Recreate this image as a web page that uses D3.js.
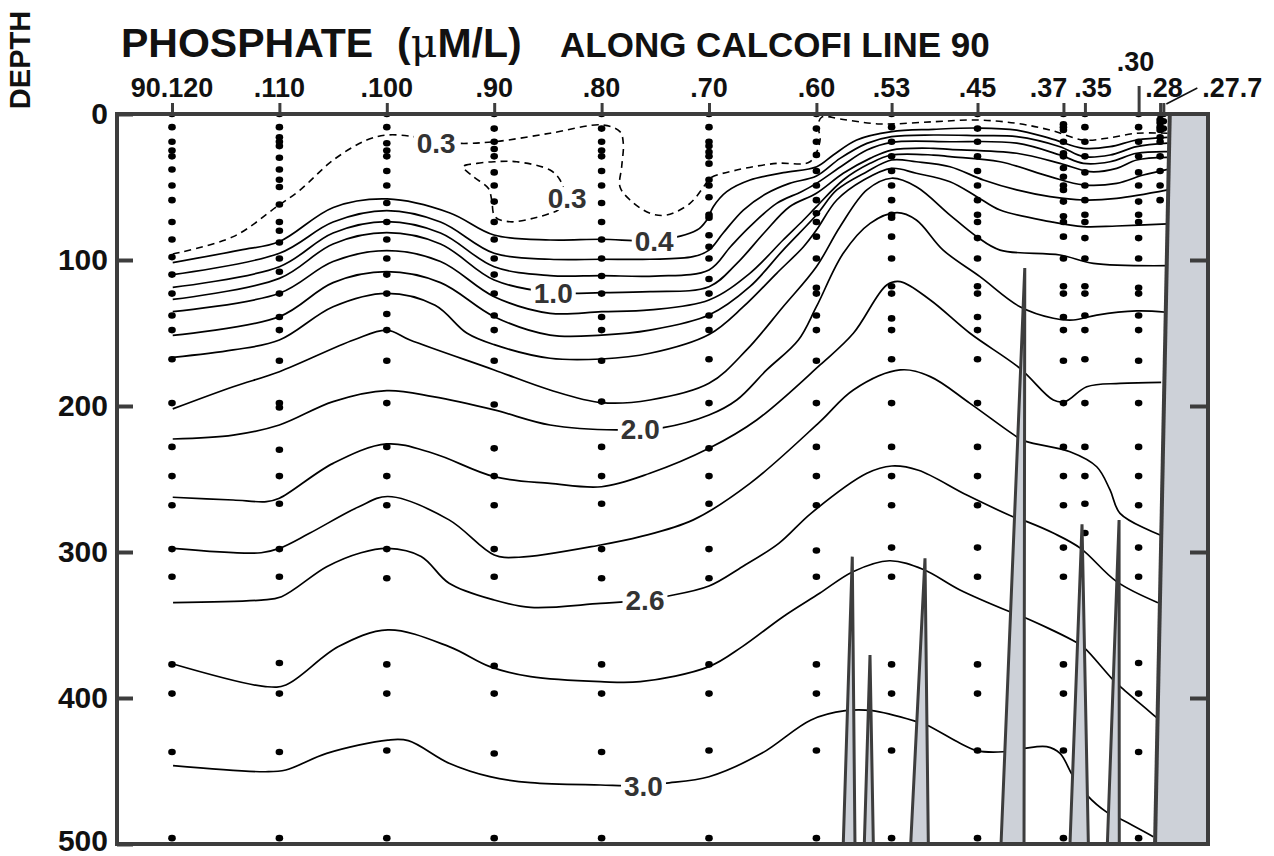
<!DOCTYPE html>
<html>
<head>
<meta charset="utf-8">
<script src="https://cdn.jsdelivr.net/npm/d3@7"></script>
<style>
  body { margin: 0; background: #fff; }
  svg { display: block; font-family: "Liberation Sans", Arial, sans-serif; font-weight: bold; }
</style>
</head>
<body>
<div id="chart"></div>
<script>
// stations along CalCOFI line 90 (x axis is the station number)
const stations = [120, 110, 100, 90, 80, 70, 60, 53, 45, 37, 35, 30, 28, 27.7];
const stationLabels = ["90.120", ".110", ".100", ".90", ".80", ".70", ".60", ".53", ".45", ".37", ".35", ".30", ".28", ".27.7"];
const depthTicks = [0, 100, 200, 300, 400, 500];

// bottle depths (m) at each station
const depths120 = [0, 9, 19, 25, 29, 38, 49, 59, 74, 86, 98, 110, 123, 138, 148, 168, 198, 228, 248, 268, 298, 317, 377, 397, 437, 496];
const depths110 = [0, 9, 16, 19, 22, 30, 38, 45, 50, 62, 74, 80, 88, 99, 108, 123, 139, 148, 169, 198, 201, 230, 248, 267, 298, 317, 376, 397, 437, 496];
const depths100 = [0, 9, 20, 25, 29, 39, 49, 61, 74, 86, 99, 110, 123, 137, 148, 169, 198, 228, 248, 268, 298, 318, 377, 397, 436, 496];
const depths90 = [0, 10, 19, 24, 29, 40, 49, 60, 74, 86, 99, 110, 123, 138, 148, 169, 199, 229, 248, 268, 298, 317, 378, 397, 438, 496];
const depths80 = [0, 10, 19, 25, 29, 39, 49, 61, 74, 86, 99, 111, 123, 139, 148, 169, 197, 228, 248, 267, 298, 318, 377, 397, 437, 496];
const depths70 = [0, 9, 19, 22, 26, 29, 34, 45, 49, 57, 69, 71, 83, 91, 99, 113, 123, 138, 148, 168, 198, 229, 248, 267, 298, 318, 377, 397, 436, 496];
const depths60 = [0, 10, 19, 28, 39, 49, 59, 68, 74, 84, 99, 119, 123, 138, 148, 169, 198, 228, 248, 268, 299, 317, 377, 397, 436, 496];
const depths53 = [0, 9, 19, 29, 39, 49, 59, 69, 71, 84, 99, 118, 123, 140, 148, 168, 198, 228, 248, 268, 297, 317, 377, 397, 436, 496];
const depths45 = [0, 10, 19, 29, 39, 49, 59, 69, 74, 85, 99, 118, 123, 139, 148, 168, 198, 228, 248, 268, 297, 317, 377, 397, 436, 496];
const depths37 = [0, 7, 9, 11, 19, 27, 29, 37, 43, 49, 52, 60, 70, 74, 84, 99, 118, 123, 139, 148, 169, 198, 228, 248, 268, 297, 317, 377, 397, 436, 496];
const depths35 = [0, 9, 19, 29, 40, 49, 59, 69, 74, 85, 99, 118, 123, 138, 148, 168, 198, 228, 248, 267, 287];
const depths30 = [0, 9, 19, 29, 40, 49, 60, 69, 74, 85, 99, 119, 123, 138, 148, 169, 198, 228, 248, 268, 297, 317, 376, 397, 437, 496];
const depths28 = [0, 4, 6, 9, 11, 16, 19, 29, 39, 49, 59];
const depths27_7 = [0, 5, 10];
const sampleDepths = [depths120, depths110, depths100, depths90, depths80, depths70, depths60,
  depths53, depths45, depths37, depths35, depths30, depths28, depths27_7];

// isolines of phosphate, points are [station, depth]
const c03 = [[119.93,95.9],[114.29,84],[110.25,63.5],[108.08,52.1],[104.98,31.5],[101.87,17.8],[99.95,14.4],[97.53,15.5],[95.42,18.5],[93.34,20.1],[90.0,19],[84.8,13.2],[79.99,7.5],[78.29,12.1],[77.98,20.1],[78.13,36.1],[78.29,49.8],[77.35,58.9],[75.49,68],[73.94,69.2],[71.77,61.2],[70.38,48.6],[69.91,44],[67.42,38.4],[63.7,33.8],[60.6,32.7],[59.66,17.8],[59.85,7.5],[59.47,2],[57.8,3.4],[54.08,6.8],[49.14,5.3],[45.07,4.1],[41.35,6.4],[38.25,11],[35.15,17.8],[32.97,16.6],[30.18,13.2],[27.3,13.2]];
const c03loop = [[92.88,36.1],[91.63,33.8],[89.99,32.7],[87.91,32.7],[84.8,38.4],[83.87,45.2],[83.4,57.5],[84.06,65.8],[84.8,68],[86.36,71.4],[88.53,73.8],[89.93,70.3],[90.23,58.9],[90.55,50.9],[91.95,42.9]];
const c04 = [[119.93,101.8],[113.67,93.2],[110.04,87.5],[104.98,64],[99.98,58.2],[94.12,67.8],[90.02,82.9],[84.8,86.3],[79.99,85.8],[75.03,86.6],[71.12,79.5],[70.21,72.6],[69.6,63.5],[68.35,53.2],[66.18,45.2],[63.08,40.2],[59.97,36.1],[58.43,28.1],[56.25,17.8],[52.99,12.1],[49.12,10.5],[45.07,9.6],[41.35,11],[38.25,16.7],[35.15,23.5],[32.66,22.4],[30.18,17.8],[27.3,16]];
const c06 = [[119.93,110],[110,95.4],[105,74],[100,66.2],[95,74],[90,95.4],[84.8,99.5],[80,99.5],[75.5,99.5],[71.5,97.7],[70,93.2],[68.7,81.7],[66.8,65.8],[64.6,54.3],[62.5,47.5],[60,42.5],[57.8,30.4],[55.3,20.1],[53,15.5],[49.1,14.4],[45.07,14.8],[41.35,15.5],[37.32,22.4],[35.15,29.2],[32.66,28.1],[30.18,22.4],[27.3,20]];
const c08 = [[119.93,118.7],[110,104.6],[105,81.5],[100,73.7],[95,81.5],[90,104.6],[84.8,110.7],[80,110.7],[75,111],[70,106.8],[68,90.9],[66.2,77.2],[63.7,61.2],[61.4,53.2],[60,47.5],[57.5,34.9],[55.3,24.7],[53,19.4],[47.56,19],[41.35,20],[37.32,28.1],[35.15,33.8],[32.66,32.7],[30.18,26.9],[27.3,25.8]];
const c10 = [[119.93,127],[110,112.6],[105,89],[100,81.3],[95,89],[90,113.7],[84.5,122.4],[80,122.4],[75.5,121.7],[70,118.3],[67.4,102.3],[64.9,81.7],[62.5,63.5],[60,54.3],[57.5,40.6],[55,30.4],[53,24.7],[49.1,23.5],[47.56,24.2],[41.35,26.9],[37.32,33.8],[34.53,39.5],[32.04,37.2],[30.18,31.5],[27.3,29.7]];
const c12 = [[119.93,135.4],[110,122.8],[105,101],[100,93.6],[95,101],[90,125.1],[84.8,136.5],[80,135.4],[75.5,134.2],[70,127.4],[66.2,109.1],[63.1,86.3],[61.2,72.6],[60,63.5],[57.5,45.2],[55,33.8],[53,28.1],[49.1,28.1],[47.56,29.2],[42.9,32.7],[38.25,42.9],[35.15,48.6],[32.04,47.5],[29.56,41.8],[27.3,37.9]];
const c14 = [[119.93,151.6],[110,138.8],[105,115.5],[100,108],[95,115.5],[90,138.8],[84.8,151.4],[80,151.4],[75.5,148],[70,137.7],[66.2,118.3],[63.1,93.2],[60,69.2],[58.1,52],[55.3,39.5],[53,31.5],[50.7,32.7],[47.56,36.1],[44.45,45.2],[41.35,52],[38.25,56.6],[35.15,58.9],[32.04,57.8],[27.3,52]];
const c16 = [[119.93,166.7],[114.3,161.6],[110,154.8],[105,132],[100,122.8],[95.5,131],[92.56,150],[90,158],[84.8,167.3],[80,167.8],[75.5,163.9],[70,151],[66.8,132],[63.7,109.1],[61.2,90.9],[60,79.5],[58.1,58.9],[55.6,45.2],[53,37.2],[50.7,40.6],[47.56,46.4],[45.07,56.6],[42.9,65.8],[38.25,73.7],[35.15,77.2],[32.04,76.7],[27.3,75.3]];
const c18 = [[119.93,202],[114.3,186.8],[110,176.5],[103.1,154.8],[100,148],[97.84,154.8],[90,175.3],[84.8,189],[80,197.7],[75.5,195.9],[70,184.5],[66.5,161.6],[63.1,132],[60,104.6],[57.8,77.2],[55.3,52],[53,44],[50.7,49.8],[47.56,69.2],[45.07,84],[42.9,93.2],[37.32,96.6],[34.22,102.3],[27.3,103.9]];
const c20 = [[119.93,222.6],[114.3,219.9],[110,213],[105,197],[100,189.5],[95.7,193.6],[90,202.7],[84.8,213],[78.6,216.4],[74.26,214.8],[70,206.2],[67.42,195.9],[64.63,175.3],[61.68,154.8],[60,132],[57.5,95.4],[55,74.9],[52.5,67.6],[50.7,72.6],[48.2,93.2],[44.77,111.4],[41.05,132],[37.94,139.9],[36.08,141.1],[33.9,137.7],[30.18,134.9],[27.4,135.8]];
const c22 = [[119.93,262.5],[114.3,264.4],[111.2,265.5],[110,263.2],[105,239.3],[100,226],[95.7,232.4],[90,248.4],[84.8,253],[80,255.3],[75.5,246.1],[70,229],[65.56,209.6],[59.66,171.9],[56.56,150.2],[53.45,117.1],[52.2,114.8],[49.4,127.4],[45.7,150.2],[41.05,174.2],[37.94,195.9],[36.85,197],[34.83,186.8],[31.73,184.5],[27.9,183.8]];
const c24 = [[119.9,297.5],[111.7,300.5],[110,297.5],[107.2,287.2],[102.6,269],[99.9,262],[94.2,278],[90,302],[87.7,303.6],[80.1,295.2],[76.4,289.5],[71.46,278],[66.18,253],[59.66,210.7],[56.56,189],[52.2,175.3],[49.4,179.9],[45.7,198.2],[41.35,221],[40.42,224.4],[36.39,231.3],[33.9,241.6],[32.66,257.5],[31.73,273.5],[28.0,288.4]];
const c26 = [[119.9,334.7],[111.7,332.9],[109.8,330.6],[105.6,310.1],[102.4,300.5],[99.9,297.5],[96.8,303],[94.2,321.4],[90,332.9],[86.6,337.9],[80.1,335.2],[75.96,333],[74.1,330.6],[70,323.3],[66.9,310.1],[63.5,294.1],[60.5,273.5],[55.3,246.1],[52.99,241.1],[50.5,244],[46,261],[41.7,275.8],[40.4,279.2],[37.9,287.2],[35.4,297.5],[32.04,320.3],[28.2,334.7]];
const c28 = [[119.9,376.7],[111.3,392.2],[109.4,391.1],[104.5,364.8],[99.9,353.4],[94.2,364.8],[90.4,378.5],[86.6,385.4],[80.1,388.8],[76.4,388.8],[70,378.5],[66.9,364.8],[63.1,344.3],[59.7,328.3],[56.6,313.5],[53.2,306],[50.04,312],[46.63,326],[41.97,341],[40.67,344.7],[35.77,362],[35.0,366],[32.51,386.5],[31.73,392],[28.31,413.5]];
const c30 = [[119.9,446.3],[111.3,450.5],[109.4,449.3],[105.6,437.9],[99.9,428.8],[98,429.2],[94.2,444.7],[90.4,453.9],[86.6,458],[80.1,459.6],[76.1,460],[74.1,458.4],[70,453.9],[65.1,437.9],[60.5,415],[57.3,408.7],[54.8,408.7],[50.66,416.2],[49.73,418.5],[46.63,431],[45.07,436],[42.6,436.8],[40.67,434.5],[38.56,433.3],[37.32,437.9],[36.17,452.7],[34.83,466.4],[32.91,478.5],[31.82,482.4],[28.63,495]];

const dashedLines = [c03];
const closedLines = [c03loop];
const solidLines = [c04, c06, c08, c10, c12, c14, c16, c18, c20, c22, c24, c26, c28, c30];

// inline isoline labels: text and [station, depth]
const isoLabels = ["0.3", "0.3", "0.4", "1.0", "2.0", "2.6", "3.0"];
const isoLabelAt = [[95.4, 20], [83.2, 57.5], [75.1, 86.6], [84.5, 122.4], [76.4, 215.8], [75.96, 333], [76.1, 460]];

// bottom topography: seamount outlines and the coast, [station, depth]
const seamounts = [
  [[57.5,500],[56.66,303.2],[56.41,500]],
  [[55.54,500],[55.01,370.5],[54.7,500]],
  [[51.22,500],[49.89,304.3],[49.58,500]],
  [[42.81,500],[40.6,105.5],[40.67,500]],
  [[36.39,500],[35.27,281],[34.68,500]],
  [[32.91,500],[31.82,278.1],[31.8,500]]
];
const coast = [[27.1, 0], [28.47, 500]];

const W = 1274, H = 856;
const dark = "#3d3d3d", land = "#cdd1d8";

const x = d3.scaleLinear().domain([125.12, 23.54]).range([117, 1208]);
const y = d3.scaleLinear().domain([0, 500]).range([114, 844]);

const svg = d3.select("#chart").append("svg")
  .attr("width", W).attr("height", H);

svg.append("clipPath").attr("id", "plot")
  .append("rect")
  .attr("x", x(125.12)).attr("y", y(0))
  .attr("width", x(23.54) - x(125.12)).attr("height", y(500) - y(0));

const line = d3.line()
  .x(d => x(d[0])).y(d => y(d[1]))
  .curve(d3.curveCatmullRom.alpha(0.5));
const loop = d3.line()
  .x(d => x(d[0])).y(d => y(d[1]))
  .curve(d3.curveCatmullRomClosed.alpha(0.5));

const plot = svg.append("g").attr("clip-path", "url(#plot)");

plot.selectAll(".iso").data(solidLines).enter()
  .append("path").attr("class", "iso")
  .attr("d", line)
  .attr("fill", "none").attr("stroke", "#000").attr("stroke-width", 1.7);

plot.selectAll(".dash").data(dashedLines).enter()
  .append("path").attr("class", "dash")
  .attr("d", line)
  .attr("fill", "none").attr("stroke", "#000").attr("stroke-width", 1.6)
  .attr("stroke-dasharray", "7,5");

plot.selectAll(".dashloop").data(closedLines).enter()
  .append("path").attr("class", "dashloop")
  .attr("d", loop)
  .attr("fill", "none").attr("stroke", "#000").attr("stroke-width", 1.6)
  .attr("stroke-dasharray", "7,5");

// sample dots
stations.forEach((s, i) => {
  plot.selectAll(null).data(sampleDepths[i]).enter()
    .append("ellipse")
    .attr("cx", x(s)).attr("cy", d => y(d))
    .attr("rx", 3.8).attr("ry", 3.3)
    .attr("fill", "#000");
});

// isoline labels on a white patch that breaks the line
const isoG = plot.selectAll(".isolabel").data(isoLabels).enter()
  .append("g").attr("class", "isolabel")
  .attr("transform", (d, i) => `translate(${x(isoLabelAt[i][0])},${y(isoLabelAt[i][1])})`);
isoG.append("text")
  .attr("dy", "0.36em")
  .attr("text-anchor", "middle")
  .attr("font-size", 28)
  .attr("fill", "#333")
  .text(d => d);
isoG.each(function () {
  const g = d3.select(this);
  const b = g.select("text").node().getBBox();
  g.insert("rect", "text")
    .attr("x", b.x - 3).attr("y", b.y + 4)
    .attr("width", b.width + 6).attr("height", b.height - 8)
    .attr("fill", "#fff");
});

// seamounts
plot.selectAll(".sea").data(seamounts).enter()
  .append("path").attr("class", "sea")
  .attr("d", d => d3.line().x(p => x(p[0])).y(p => y(p[1]))(d) + "Z")
  .attr("fill", land).attr("stroke", dark).attr("stroke-width", 3)
  .attr("stroke-linejoin", "miter");

// coast / shelf
const shelf = coast.concat([[23.54, 500], [23.54, 0]]);
plot.append("path")
  .attr("d", d3.line().x(p => x(p[0])).y(p => y(p[1]))(shelf) + "Z")
  .attr("fill", land);
plot.append("path")
  .attr("d", d3.line().x(p => x(p[0])).y(p => y(p[1]))(coast))
  .attr("stroke", dark).attr("stroke-width", 4);

// frame
svg.append("rect")
  .attr("x", x(125.12)).attr("y", y(0))
  .attr("width", x(23.54) - x(125.12)).attr("height", y(500) - y(0))
  .attr("fill", "none").attr("stroke", dark).attr("stroke-width", 4);

// depth axis, left and right inner ticks
const yAxis = svg.append("g")
  .attr("transform", `translate(${x(125.12)},0)`)
  .call(d3.axisLeft(y).tickValues(depthTicks).tickSize(-16).tickPadding(9));
yAxis.select(".domain").remove();
yAxis.selectAll("line").attr("stroke", dark).attr("stroke-width", 4);
yAxis.selectAll("text").attr("font-size", 30).attr("fill", "#111")
  .attr("font-family", "Liberation Sans, Arial, sans-serif").attr("font-weight", "bold")
  .attr("dy", d => d === 500 ? "0.22em" : "0.32em");

const yRight = svg.append("g")
  .attr("transform", `translate(${x(23.54)},0)`)
  .call(d3.axisRight(y).tickValues(depthTicks.slice(1, -1)).tickSize(-18).tickFormat(""));
yRight.select(".domain").remove();
yRight.selectAll("line").attr("stroke", dark).attr("stroke-width", 4);

// station axis on top
const xAxis = svg.append("g")
  .attr("transform", `translate(0,${y(0)})`)
  .call(d3.axisTop(x).tickValues(stations).tickSize(11).tickFormat(""));
xAxis.select(".domain").remove();
xAxis.selectAll("line").attr("stroke", dark).attr("stroke-width", 3)
  .attr("y2", d => d === 30 ? -28 : -11);

const labelNudge = { ".37": [-15, 0], ".35": [8, 0], ".30": [-3, -26], ".28": [4, 0], ".27.7": [69, 0] };
svg.selectAll(".stlabel").data(stations).enter()
  .append("text").attr("class", "stlabel")
  .attr("x", (d, i) => x(d) + (labelNudge[stationLabels[i]] || [0, 0])[0])
  .attr("y", (d, i) => 97 + (labelNudge[stationLabels[i]] || [0, 0])[1])
  .attr("text-anchor", "middle")
  .attr("font-size", 27)
  .attr("fill", "#111")
  .text((d, i) => stationLabels[i]);

// leader for .27.7
svg.append("line")
  .attr("x1", x(27.7) + 3).attr("y1", 104)
  .attr("x2", x(27.7) + 34).attr("y2", 88)
  .attr("stroke", "#111").attr("stroke-width", 1.5);

// titles
const title = svg.append("text").attr("x", 121).attr("y", 57).attr("fill", "#111")
  .attr("font-size", 41);
title.append("tspan").text("PHOSPHATE");
title.append("tspan").attr("dx", 24).text("(");
title.append("tspan").attr("font-family", "DejaVu Serif, serif")
  .attr("font-weight", "normal").text("\u03bc");
title.append("tspan").text("M/L)");
svg.append("text").attr("x", 560).attr("y", 57).attr("fill", "#111")
  .attr("font-size", 35).text("ALONG CALCOFI LINE 90");

svg.append("text")
  .attr("transform", "translate(30,60) rotate(-90)")
  .attr("text-anchor", "middle")
  .attr("font-size", 29).attr("fill", "#111")
  .text("DEPTH");
</script>
</body>
</html>
